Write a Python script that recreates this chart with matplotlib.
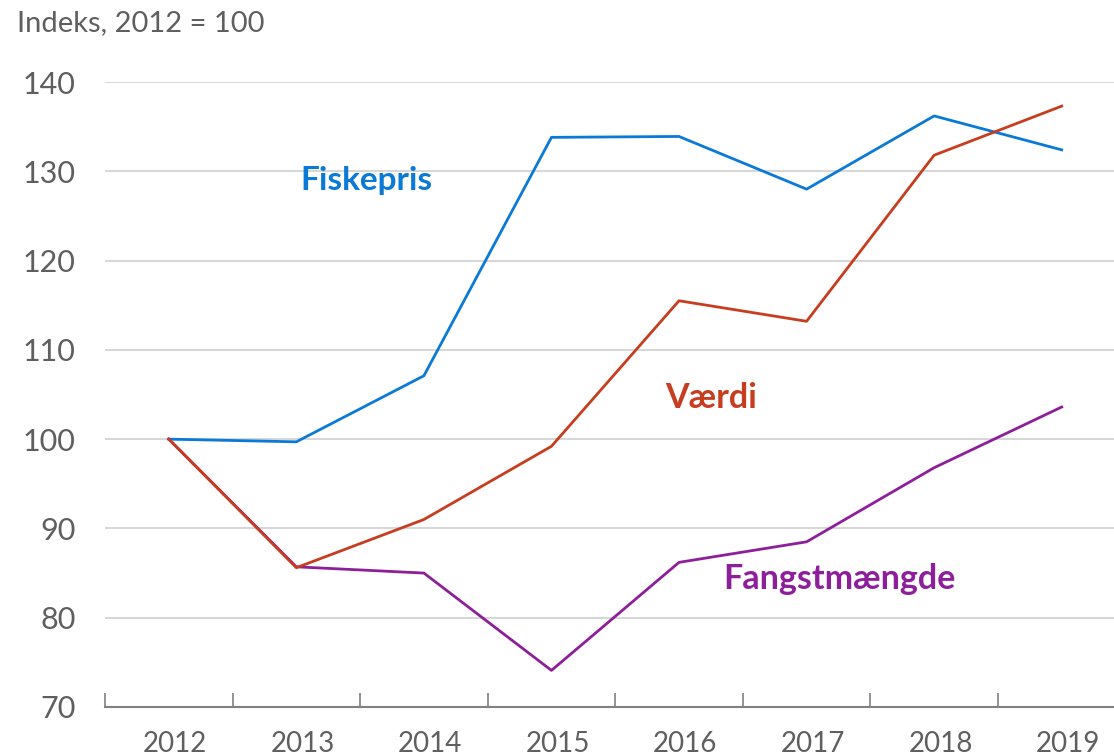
import matplotlib
matplotlib.use("Agg")
import matplotlib.pyplot as plt

years = ["2012", "2013", "2014", "2015", "2016", "2017", "2018", "2019"]
fiskepris = [100.0, 99.7, 107.1, 133.8, 133.9, 128.0, 136.2, 132.4]
vaerdi = [100.0, 85.6, 91.0, 99.2, 115.5, 113.2, 131.8, 137.3]
fangstmaengde = [100.0, 85.7, 85.0, 74.1, 86.2, 88.5, 96.8, 103.6]
yticks = [70, 80, 90, 100, 110, 120, 130, 140]

c_blue = "#0a7ad6"
c_red = "#c63d1f"
c_purple = "#8e1f9a"
c_text = "#5f5f5f"

plt.rcParams['font.family'] = ['Lato', 'DejaVu Sans']

fig = plt.figure(figsize=(11.14, 7.56), dpi=100)
ax = fig.add_axes([105/1114, 1 - 707/756, 1 - 105/1114, (707 - 82)/756])

x = list(range(len(years)))
ax.plot(x, fiskepris, color=c_blue, lw=2, zorder=3)
ax.plot(x, fangstmaengde, color=c_purple, lw=2, zorder=3)
ax.plot(x, vaerdi, color=c_red, lw=2, zorder=4)

ax.set_xlim(-0.5, 7.41)
ax.set_ylim(70, 140)
ax.set_yticks(yticks)
ax.set_yticklabels([str(v) for v in yticks])
ax.yaxis.grid(True, color="#d0d0d0", lw=1.2)
ax.set_axisbelow(True)
ax.tick_params(axis='y', length=0, pad=21, labelsize=22, labelcolor=c_text)

# category axis: ticks at boundaries, labels at centres
ax.set_xticks([i - 0.5 for i in range(len(years))])
ax.set_xticklabels([])
ax.set_xticks([i + 0.05 for i in x], minor=True)
ax.set_xticklabels(years, minor=True)
ax.tick_params(axis='x', which='major', length=10, width=1.2, color="#808080", direction='in')
ax.tick_params(axis='x', which='minor', length=0, pad=17, labelsize=20, labelcolor=c_text)

for s in ["top", "right", "left"]:
    ax.spines[s].set_visible(False)
ax.spines["bottom"].set_color("#808080")
ax.spines["bottom"].set_linewidth(1.5)

ax.text(1.55, 129.0, "Fiskepris", color=c_blue, fontsize=24, fontweight='bold', ha='center', va='center')
ax.text(4.25, 104.6, "Værdi", color=c_red, fontsize=24.5, fontweight='bold', ha='center', va='center')
ax.text(5.26, 84.3, "Fangstmængde", color=c_purple, fontsize=24.5, fontweight='bold', ha='center', va='center')

fig.text(17/1114, 1 - 23/756, "Indeks, 2012 = 100", color=c_text, fontsize=21, ha='left', va='center')

fig.savefig("out.png", dpi=100)
